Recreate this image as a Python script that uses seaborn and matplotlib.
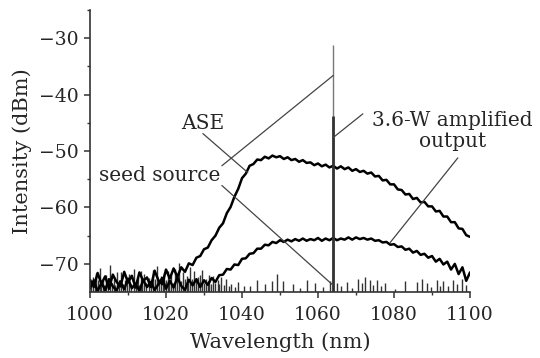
import numpy as np
import matplotlib
matplotlib.use('Agg')
import matplotlib.pyplot as plt
import seaborn as sns

# Wavelength grid (nm) for the two measured spectra
wavelength = np.arange(1000, 1101, 1)

# ASE spectrum (dBm) at 1 nm steps
ase_db = [
    -72.8, -74.1, -71.6, -73.5, -72.2, -74.4, -71.9, -73.2, -74.0, -71.4,
    -73.3, -72.1, -74.2, -71.5, -73.0, -72.4, -74.1, -71.2, -72.9, -73.6,
    -71.0, -72.6, -70.8, -72.3, -70.6, -71.4, -69.9, -70.2, -68.9, -68.6,
    -67.4, -67.1, -65.8, -65.0, -63.6, -62.8, -61.0, -59.9, -58.1, -56.7,
    -54.8, -54.0, -52.6, -52.3, -51.5, -51.6, -51.0, -51.3, -50.8, -51.1,
    -50.9, -51.4, -51.1, -51.6, -51.4, -51.9, -51.6, -52.1, -52.0, -52.5,
    -52.2, -52.7, -52.4, -52.9, -52.6, -53.1, -52.7, -53.2, -52.9, -53.5,
    -53.2, -53.7, -53.5, -54.0, -53.8, -54.5, -54.4, -55.2, -55.1, -55.9,
    -55.9, -56.8, -56.9, -57.7, -57.6, -58.5, -58.3, -59.1, -59.0, -59.8,
    -59.8, -60.7, -60.6, -61.6, -61.6, -62.6, -62.6, -63.7, -63.8, -64.9,
    -65.2,
]

# 3.6-W amplified output spectrum (dBm)
output_db = [
    -74.3, -72.9, -74.8, -73.4, -74.6, -72.7, -74.0, -74.7, -73.1, -74.5,
    -72.6, -74.3, -73.5, -74.8, -72.8, -74.1, -73.2, -74.6, -73.6, -72.5,
    -74.4, -73.0, -74.2, -72.4, -73.9, -74.6, -72.8, -73.8, -72.7, -74.1,
    -72.9, -73.7, -72.5, -73.2, -72.0, -71.9, -70.9, -71.0, -70.1, -70.2,
    -69.1, -69.0, -68.2, -68.1, -67.3, -67.3, -66.6, -66.7, -66.1, -66.3,
    -65.8, -66.1, -65.7, -66.0, -65.6, -65.9, -65.5, -65.9, -65.6, -65.8,
    -65.4, -65.9, -65.5, -65.8, -65.4, -65.8, -65.5, -65.7, -65.3, -65.7,
    -65.3, -65.6, -65.4, -65.7, -65.5, -65.9, -65.8, -66.2, -66.1, -66.6,
    -66.5, -67.0, -66.9, -67.5, -67.3, -68.0, -67.7, -68.4, -68.2, -68.9,
    -68.6, -69.6, -69.1, -70.1, -69.6, -71.0, -70.0, -71.8, -70.6, -73.0,
    -71.5,
]

# Seed source: noise spikes above the floor (nm, dBm)
seed_noise_wl = [
    1000.3, 1000.8, 1001.2, 1001.7, 1002.1, 1002.5, 1003.0, 1003.4, 1003.8, 1004.1,
    1004.7, 1005.3, 1005.8, 1006.2, 1006.6, 1007.0, 1007.5, 1008.1, 1008.7, 1009.3,
    1009.8, 1010.2, 1010.9, 1011.6, 1012.0, 1012.5, 1012.9, 1013.3, 1013.8, 1014.2,
    1014.8, 1015.4, 1016.0, 1016.5, 1017.1, 1017.7, 1018.2, 1018.6, 1019.1, 1019.5,
    1020.0, 1020.4, 1020.9, 1021.3, 1021.8, 1022.4, 1022.9, 1023.5, 1024.0, 1024.6,
    1025.0, 1025.4, 1025.8, 1026.2, 1026.8, 1027.3, 1027.9, 1028.4, 1029.0, 1029.6,
    1030.1, 1030.5, 1031.0, 1031.4, 1031.9, 1032.4, 1033.0, 1033.6, 1034.0, 1034.5,
    1035.2, 1035.8, 1036.5, 1037.2, 1038.1, 1039.0, 1040.6, 1042.1,
    1043.9, 1046.0, 1047.8, 1049.1, 1050.9, 1053.3, 1055.2, 1057.0, 1059.2, 1061.3,
    1063.2, 1064.9, 1066.1, 1067.5, 1069.0, 1070.6, 1071.5, 1072.4, 1073.7, 1074.5,
    1075.4, 1076.5, 1077.6, 1080.2, 1082.9, 1086.0, 1087.3, 1088.6, 1089.7, 1091.2,
    1092.1, 1093.0, 1094.3, 1095.6, 1096.7, 1097.8, 1099.0,
]
seed_noise_db = [
    -73.1, -72.4, -73.6, -71.6, -72.8, -70.8, -73.3, -72.9, -73.8, -71.9,
    -73.0, -70.2, -73.4, -72.6, -73.7, -71.4, -72.9, -71.5, -73.5, -72.8,
    -73.2, -71.7, -73.6, -70.9, -73.0, -72.3, -73.8, -71.3, -72.7, -71.8,
    -73.4, -72.5, -73.1, -71.1, -72.6, -70.4, -73.3, -72.2, -73.5, -71.6,
    -72.8, -71.2, -73.2, -72.0, -73.4, -70.9, -72.5, -69.8, -73.0, -71.5,
    -72.7, -72.1, -73.3, -70.5, -72.6, -71.3, -73.1, -72.4, -72.0, -71.0,
    -73.4, -72.7, -73.0, -71.9, -73.5, -72.1, -73.3, -72.9, -73.6, -72.3,
    -73.8, -72.6, -73.9, -73.5, -74.1, -73.2, -74.0, -73.9,
    -72.8, -73.5, -73.1, -71.8, -73.0, -73.6, -74.2, -72.9, -73.4, -74.1,
    -73.0, -73.3, -74.0, -73.2, -74.3, -72.6, -73.4, -72.3, -72.8, -73.7,
    -72.9, -74.0, -73.3, -74.4, -73.0, -73.2, -72.7, -73.4, -74.1, -72.8,
    -73.9, -73.1, -74.0, -72.9, -73.6, -72.6, -73.8,
]
floor_db = -75.0

# Laser lines at 1064 nm
line_wl = 1064.0
seed_peak_db = -31.2
output_peak_db = -43.7


def style_axes(ax):
    ax.set_xlim(1000, 1100)
    ax.set_ylim(-75, -25)
    ax.set_xticks([1000, 1020, 1040, 1060, 1080, 1100])
    ax.set_xticks(np.arange(1010, 1100, 20), minor=True)
    ax.set_yticks([-70, -60, -50, -40, -30])
    ax.set_yticks([-65, -55, -45, -35, -25], minor=True)
    ax.tick_params(which='major', length=4, width=1.1, pad=4, labelsize=13.5, color='#333333')
    ax.tick_params(which='minor', length=2.5, width=1.0, color='#333333')
    ax.tick_params(axis='x', which='major', pad=6)
    sns.despine(ax=ax)
    for side in ['left', 'bottom']:
        ax.spines[side].set_linewidth(1.2)
        ax.spines[side].set_color('#333333')
    ax.set_xlabel('Wavelength (nm)', fontsize=15, labelpad=6)
    ax.set_ylabel('Intensity (dBm)', fontsize=15, labelpad=5)


def connector(ax, start, end):
    ax.annotate('', xy=end, xytext=start,
                arrowprops=dict(arrowstyle='-', color='#444444', lw=0.9,
                                shrinkA=0, shrinkB=0))


def main():
    sns.set_theme(style='ticks')
    plt.rcParams['font.family'] = ['DejaVu Serif']
    plt.rcParams['axes.unicode_minus'] = True

    fig = plt.figure(figsize=(5.4, 3.58), dpi=100)
    ax = fig.add_axes([0.1667, 0.184, 0.7037, 0.788])

    # seed source noise floor and its 1064 nm line
    ax.vlines(seed_noise_wl, floor_db, seed_noise_db, color='#333333', lw=1.0)
    ax.vlines(line_wl, floor_db, seed_peak_db, color='#777777', lw=1.0)

    # spectra
    sns.lineplot(x=wavelength, y=ase_db, ax=ax, color='black', lw=1.8)
    sns.lineplot(x=wavelength, y=output_db, ax=ax, color='black', lw=1.8)
    ax.vlines(line_wl, floor_db, output_peak_db, color='#333333', lw=2.0)

    style_axes(ax)

    # labels with connector lines
    ax.text(1029.7, -45.1, 'ASE', fontsize=14.5, ha='center', va='center')
    connector(ax, (1029.7, -46.9), (1041.5, -53.8))

    ax.text(1018.4, -54.3, 'seed source', fontsize=14.5, ha='center', va='center')
    connector(ax, (1034.7, -52.6), (line_wl, -36.6))
    connector(ax, (1034.7, -56.1), (line_wl, -73.8))

    ax.text(1095.3, -46.4, '3.6-W amplified\noutput', fontsize=14.5,
            ha='center', va='center', linespacing=1.15)
    connector(ax, (line_wl, -47.6), (1071.8, -43.4))
    connector(ax, (1096.8, -51.2), (1079.0, -66.2))

    fig.savefig('out.png', dpi=100)


if __name__ == '__main__':
    main()
